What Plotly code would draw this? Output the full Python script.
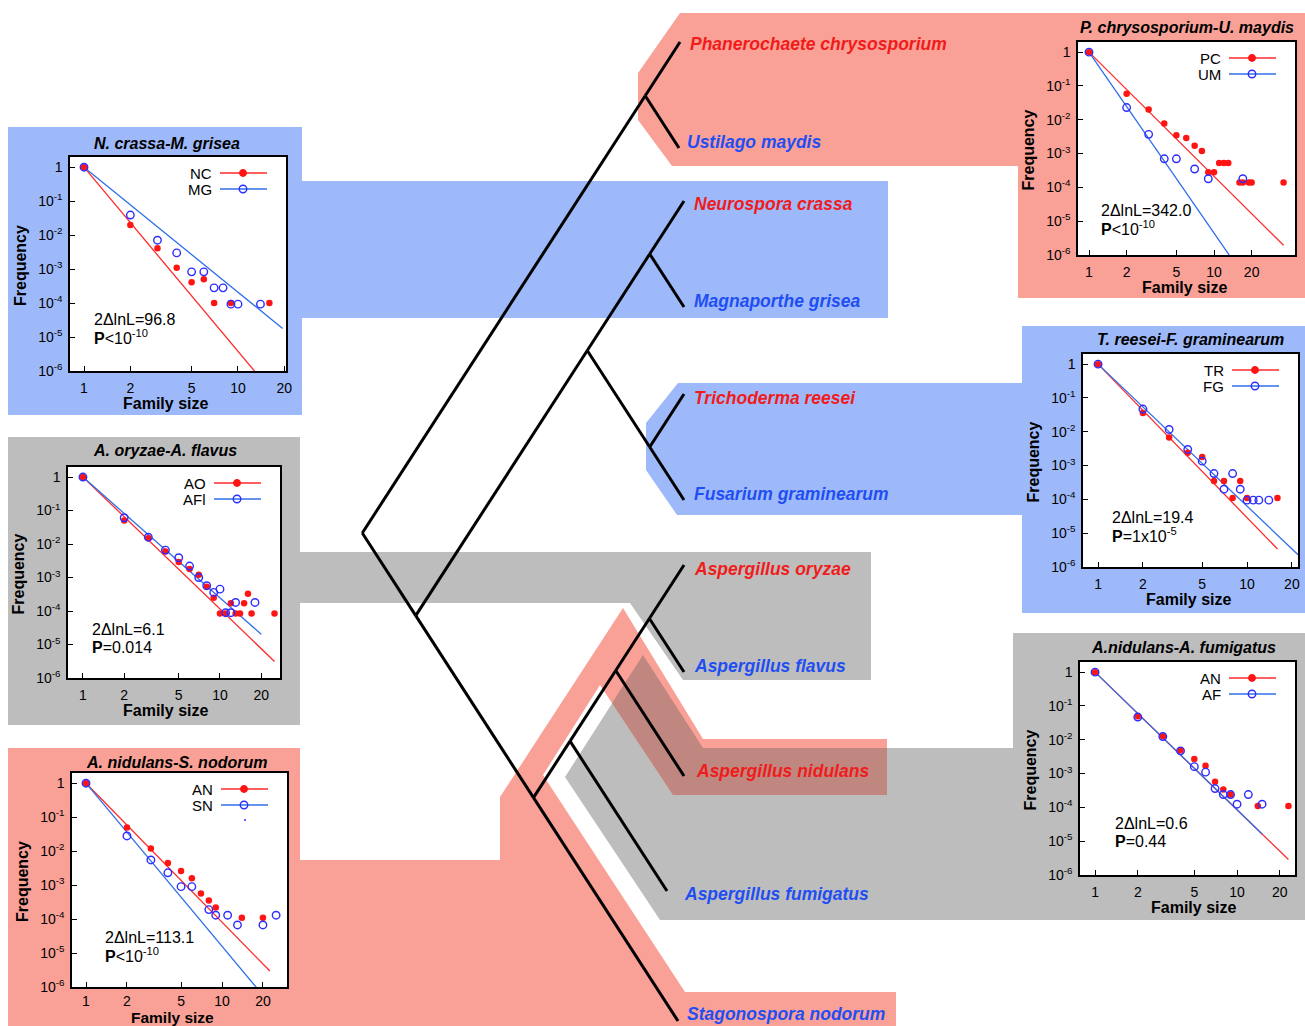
import plotly.graph_objects as go

W, H = 1305, 1026
FONT = "Liberation Sans, Arial, Helvetica, sans-serif"

# colours
RED_TXT, BLUE_TXT = "#f01c1c", "#1f4ef2"
RED_MK, RED_LN = "#ff1414", "#ff2a2a"
BLUE_MK, BLUE_LN = "#2d2dff", "#2f6fe8"
SALMON, SKY, GREY, DUSK = "#f9a197", "#9eb9f9", "#bdbdbd", "#bf877f"

# ---------------- family-size distributions ----------------
# N. crassa (NC) / M. grisea (MG)
nc_size = [1, 2, 3, 4, 5, 6, 7, 9, 16]
nc_freq = [1.0, 0.0197, 0.0041, 0.0011, 4.1e-4, 5.0e-4, 1.0e-4, 1.0e-4, 1.0e-4]
mg_size = [1, 2, 3, 4, 5, 6, 7, 8, 9, 10, 14]
mg_freq = [1.0, 0.039, 0.0071, 0.0030, 8.3e-4, 8.3e-4, 2.8e-4, 2.8e-4, 9.3e-5, 9.3e-5, 9.3e-5]

# A. oryzae (AO) / A. flavus (AFl)
ao_size = [1, 2, 3, 4, 5, 6, 7, 8, 9, 10, 11, 12, 13, 14, 15, 16, 17, 25]
ao_freq = [1.0, 0.050, 0.0150, 0.0060, 0.0029, 0.0018, 0.0012, 5.3e-4, 2.5e-4, 8.5e-5,
           8.5e-5, 1.7e-4, 8.5e-5, 8.5e-5, 1.7e-4, 3.3e-4, 8.5e-5, 8.5e-5]
afl_size = [1, 2, 3, 4, 5, 6, 7, 8, 9, 10, 11, 12, 13, 18]
afl_freq = [1.0, 0.061, 0.016, 0.0066, 0.0039, 0.0022, 0.0010, 5.7e-4, 3.6e-4, 4.5e-4,
            8.9e-5, 8.9e-5, 1.8e-4, 1.8e-4]

# A. nidulans (AN) / S. nodorum (SN)
ans_size = [1, 2, 3, 4, 5, 6, 7, 8, 9, 14, 20]
ans_freq = [1.0, 0.050, 0.012, 0.0045, 0.0026, 0.0016, 5.7e-4, 3.5e-4, 2.2e-4, 1.1e-4, 1.1e-4]
sn_size = [1, 2, 3, 4, 5, 6, 8, 9, 11, 13, 20, 25]
sn_freq = [1.0, 0.028, 0.0055, 0.0023, 9.0e-4, 9.0e-4, 1.9e-4, 1.3e-4, 1.3e-4, 6.7e-5, 6.7e-5, 1.3e-4]

# P. chrysosporium (PC) / U. maydis (UM)
pc_size = [1, 2, 3, 4, 5, 6, 7, 8, 9, 10, 11, 12, 13, 16, 17, 19, 20, 36]
pc_freq = [1.0, 0.059, 0.020, 0.0078, 0.0035, 0.0029, 0.0017, 0.0012, 2.8e-4, 2.8e-4,
           5.3e-4, 5.3e-4, 5.3e-4, 1.4e-4, 1.4e-4, 1.4e-4, 1.4e-4, 1.4e-4]
um_size = [1, 2, 3, 4, 5, 7, 9, 17]
um_freq = [1.0, 0.023, 0.0037, 7.0e-4, 7.0e-4, 3.5e-4, 1.8e-4, 1.8e-4]

# T. reesei (TR) / F. graminearum (FG)
tr_size = [1, 2, 3, 4, 5, 6, 7, 8, 9, 10, 16]
tr_freq = [1.0, 0.036, 0.0068, 0.0024, 0.0018, 3.5e-4, 3.5e-4, 1.1e-4, 3.5e-4, 1.1e-4, 1.1e-4]
fg_size = [1, 2, 3, 4, 5, 6, 7, 8, 9, 10, 11, 12, 14]
fg_freq = [1.0, 0.047, 0.0117, 0.0030, 0.00135, 5.8e-4, 2.0e-4, 5.8e-4, 2.0e-4, 9.5e-5,
           9.5e-5, 9.5e-5, 9.5e-5]

# A. nidulans (AN) / A. fumigatus (AF)
anf_size = [1, 2, 3, 4, 5, 6, 7, 8, 9, 14, 23]
anf_freq = [1.0, 0.050, 0.0128, 0.0049, 0.0027, 0.0017, 5.7e-4, 3.4e-4, 2.4e-4, 1.1e-4, 1.1e-4]
af_size = [1, 2, 3, 4, 5, 6, 7, 8, 9, 10, 12, 15]
af_freq = [1.0, 0.047, 0.0125, 0.0047, 0.0016, 0.0011, 3.6e-4, 2.4e-4, 2.4e-4, 1.24e-4, 2.4e-4, 1.24e-4]

# fitted power laws  f(n) = n^-alpha, drawn from n = 1 to n_end
alpha_red = [5.42, 3.94, 4.09, 3.67, 4.54, 4.07]
alpha_blue = [3.68, 3.61, 4.80, 5.35, 4.20, 4.07]
end_red = [20, 25, 22.5, 36, 16, 23]
end_blue = [19.5, 20, 20, 20, 22, 15]

# likelihood-ratio statistics
lnl_stat = ["96.8", "6.1", "113.1", "342.0", "19.4", "0.6"]
p_value = ["&lt;10<sup>-10</sup>", "=0.014", "&lt;10<sup>-10</sup>",
           "&lt;10<sup>-10</sup>", "=1x10<sup>-5</sup>", "=0.44"]

titles = ["N. crassa-M. grisea", "A. oryzae-A. flavus", "A. nidulans-S. nodorum",
          "P. chrysosporium-U. maydis", "T. reesei-F. graminearum", "A.nidulans-A. fumigatus"]
red_codes = ["NC", "AO", "AN", "PC", "TR", "AN"]
blue_codes = ["MG", "AFl", "SN", "UM", "FG", "AF"]
red_data = [(nc_size, nc_freq), (ao_size, ao_freq), (ans_size, ans_freq),
            (pc_size, pc_freq), (tr_size, tr_freq), (anf_size, anf_freq)]
blue_data = [(mg_size, mg_freq), (afl_size, afl_freq), (sn_size, sn_freq),
             (um_size, um_freq), (fg_size, fg_freq), (af_size, af_freq)]

x_ticks = [1, 2, 5, 10, 20]
y_ticks = [1, 1e-1, 1e-2, 1e-3, 1e-4, 1e-5, 1e-6]
y_ticktext = ["1"] + [f"10<sup>-{k}</sup>" for k in range(1, 7)]

# ---------------- page geometry (pixels) ----------------
# plot frame (left, top, right, bottom) and x range (log10) of every panel
frames = [(70, 157, 286, 371), (68, 467, 280, 678), (72, 773, 287, 987),
          (1078, 42, 1295, 255), (1083, 354, 1298, 567), (1080, 662, 1295, 875)]
x_ranges = [(-0.091, 1.312), (-0.109, 1.438), (-0.103, 1.478),
            (-0.088, 1.648), (-0.101, 1.342), (-0.106, 1.408)]
title_pos = [(167, 143), (165, 450), (176, 762), (1187, 27), (1190, 339), (1183, 647)]
xlabel_pos = [(165, 403), (165, 710), (172, 1017), (1184, 287), (1188, 599), (1193, 907)]
xlabel_size = [16, 16, 15.5, 16, 16, 16]
xtick_standoff = [3, 3, 0, 3, 3, 3]
stat_pos = [(92, 319), (90, 629), (103, 937), (1099, 210), (1110, 517), (1113, 823)]

# ---------------- phylogeny ----------------
species = ["Phanerochaete chrysosporium", "Ustilago maydis", "Neurospora crassa",
           "Magnaporthe grisea", "Trichoderma reesei", "Fusarium graminearum",
           "Aspergillus oryzae", "Aspergillus flavus", "Aspergillus nidulans",
           "Aspergillus fumigatus", "Stagonospora nodorum"]
species_red = [True, False, True, False, True, False, True, False, True, False, False]
tip_xy = [(680, 42), (679, 148), (684, 201), (684, 307), (684, 394), (684, 500),
          (684, 565), (684, 672), (684, 776), (667, 891), (678, 1021)]
label_xy = [(688, 44), (685, 142), (692, 204), (692, 301), (692, 398), (692, 494),
            (692, 569), (692, 666), (694, 771), (682, 894), (685, 1014)]
topology = ((0, 1), (((2, 3), (4, 5)), ((((6, 7), 8), 9), 10)))
SLANT = 0.647  # horizontal run per pixel of vertical run on every branch

edges = []


def place(node):
    if isinstance(node, int):
        return tip_xy[node]
    (x1, y1), (x2, y2) = place(node[0]), place(node[1])
    yp = (y1 + y2) / 2 + (x1 - x2) / (2 * SLANT)
    xp = x1 - SLANT * (yp - y1)
    edges.append(((xp, yp), (x1, y1)))
    edges.append(((xp, yp), (x2, y2)))
    return (xp, yp)


place(topology)

fig = go.Figure()

# tree branches
tx, ty = [], []
for (a, b) in edges:
    tx += [a[0], b[0], None]
    ty += [a[1], b[1], None]
fig.add_trace(go.Scatter(x=tx, y=ty, mode="lines", line=dict(color="black", width=3),
                         xaxis="x", yaxis="y", hoverinfo="skip"))

# ---------------- highlight bands ----------------
def poly(pts):
    return "M " + " L ".join(f"{x},{y}" for x, y in pts) + " Z"


bands = [
    (SALMON, [(680, 13), (1305, 13), (1305, 298), (1018, 298), (1018, 166), (672, 166),
              (638, 120), (638, 73)]),
    (SKY, [(8, 127), (302, 127), (302, 181), (888, 181), (888, 318), (302, 318),
           (302, 415), (8, 415)]),
    (SKY, [(678, 383), (1022, 383), (1022, 326), (1305, 326), (1305, 613), (1022, 613),
           (1022, 515), (677, 515), (646, 470), (646, 423)]),
    (GREY, [(8, 437), (300, 437), (300, 552), (871, 552), (871, 680), (683, 680),
            (630, 603), (300, 603), (300, 725), (8, 725)]),
    (GREY, [(565, 777), (643, 655), (703, 748), (1013, 748), (1013, 633), (1305, 633),
            (1305, 920), (660, 920)]),
    (SALMON, [(8, 748), (300, 748), (300, 860), (500, 860), (500, 797), (623, 608),
              (703, 739), (887, 739), (887, 795), (673, 795), (600, 685), (543, 775),
              (685, 992), (896, 992), (896, 1026), (8, 1026)]),
    (DUSK, [(643, 655), (703, 748), (887, 748), (887, 795), (673, 795), (612, 703)]),
]
shapes = []
for col, pts in bands:
    shapes.append(dict(type="path", path=poly(pts), xref="x", yref="y", fillcolor=col,
                       line=dict(width=0), layer="below"))
for (L, T, R, B) in frames:
    shapes.append(dict(type="rect", x0=L, x1=R, y0=T, y1=B, xref="x", yref="y",
                       fillcolor="white", line=dict(width=0), layer="below"))

annotations = []
for name, red, (lx, ly) in zip(species, species_red, label_xy):
    annotations.append(dict(x=lx, y=ly, xref="x", yref="y", text=f"<b><i>{name}</i></b>",
                            showarrow=False, xanchor="left", yanchor="middle",
                            font=dict(family=FONT, size=17.5,
                                      color=RED_TXT if red else BLUE_TXT)))

layout_axes = {}
axis_common = dict(showline=True, linecolor="black", linewidth=1.5, mirror=True,
                   ticks="inside", ticklen=5, tickwidth=1, tickcolor="black",
                   showgrid=False, zeroline=False, fixedrange=True, ticklabelstandoff=3,
                   automargin=False,
                   tickfont=dict(family=FONT, size=14, color="black"))

for k in range(6):
    i = k + 2
    L, T, R, B = frames[k]
    layout_axes[f"xaxis{i}"] = dict(axis_common, type="log", anchor=f"y{i}",
                                    domain=[L / W, R / W], range=list(x_ranges[k]),
                                    tickvals=x_ticks, ticktext=[str(v) for v in x_ticks],
                                    ticklabelstandoff=xtick_standoff[k])
    layout_axes[f"yaxis{i}"] = dict(axis_common, type="log", anchor=f"x{i}",
                                    domain=[1 - B / H, 1 - T / H], range=[-6, 0.3],
                                    tickvals=y_ticks, ticktext=y_ticktext)

    # fitted lines
    for alpha, n_end, col in ((alpha_red[k], end_red[k], RED_LN),
                              (alpha_blue[k], end_blue[k], BLUE_LN)):
        fig.add_trace(go.Scatter(x=[1, n_end], y=[1, n_end ** (-alpha)], mode="lines",
                                 line=dict(color=col, width=1.3),
                                 xaxis=f"x{i}", yaxis=f"y{i}", hoverinfo="skip"))
    # observed frequencies
    rs, rf = red_data[k]
    bs, bf = blue_data[k]
    fig.add_trace(go.Scatter(x=rs, y=rf, mode="markers",
                             marker=dict(symbol="circle", size=6.5, color=RED_MK),
                             xaxis=f"x{i}", yaxis=f"y{i}"))
    fig.add_trace(go.Scatter(x=bs, y=bf, mode="markers",
                             marker=dict(symbol="circle-open", size=7.5, color=BLUE_MK,
                                         line=dict(width=1.4, color=BLUE_MK)),
                             xaxis=f"x{i}", yaxis=f"y{i}"))

    # key (code, line sample, marker sample)
    for row, (code, lcol, mcol, sym) in enumerate(
            ((red_codes[k], RED_LN, RED_MK, "circle"),
             (blue_codes[k], BLUE_LN, BLUE_MK, "circle-open"))):
        yk = T + 16 + 16 * row
        annotations.append(dict(x=R - 72, y=yk, xref="x", yref="y", text=code,
                                showarrow=False, xanchor="right", yanchor="middle",
                                font=dict(family=FONT, size=15, color="black")))
        fig.add_trace(go.Scatter(x=[R - 66, R - 19], y=[yk, yk], mode="lines",
                                 line=dict(color=lcol, width=1.3),
                                 xaxis="x", yaxis="y", hoverinfo="skip"))
        fig.add_trace(go.Scatter(x=[R - 43], y=[yk], mode="markers",
                                 marker=dict(symbol=sym, size=6.5 if row == 0 else 7.5,
                                             color=mcol, line=dict(width=1.4, color=mcol)),
                                 xaxis="x", yaxis="y", hoverinfo="skip"))
    if k == 2:
        fig.add_trace(go.Scatter(x=[R - 42], y=[T + 47], mode="markers",
                                 marker=dict(size=2, color=BLUE_MK),
                                 xaxis="x", yaxis="y", hoverinfo="skip"))

    # title, axis titles, statistics
    tx0, ty0 = title_pos[k]
    annotations.append(dict(x=tx0, y=ty0, xref="x", yref="y",
                            text=f"<b><i>{titles[k]}</i></b>", showarrow=False,
                            xanchor="center", yanchor="middle",
                            font=dict(family=FONT, size=16, color="black")))
    annotations.append(dict(x=L - 50, y=(T + B) / 2 + 2, xref="x", yref="y",
                            text="<b>Frequency</b>", textangle=-90, showarrow=False,
                            xanchor="center", yanchor="middle",
                            font=dict(family=FONT, size=16, color="black")))
    lx0, ly0 = xlabel_pos[k]
    annotations.append(dict(x=lx0, y=ly0, xref="x", yref="y",
                            text="<b>Family size</b>", showarrow=False,
                            xanchor="center", yanchor="middle",
                            font=dict(family=FONT, size=xlabel_size[k], color="black")))
    sx, sy = stat_pos[k]
    annotations.append(dict(x=sx, y=sy, xref="x", yref="y",
                            text=f"2\u0394lnL={lnl_stat[k]}", showarrow=False,
                            xanchor="left", yanchor="middle",
                            font=dict(family=FONT, size=16, color="black")))
    annotations.append(dict(x=sx, y=sy + 18, xref="x", yref="y",
                            text=f"<b>P</b>{p_value[k]}", showarrow=False,
                            xanchor="left", yanchor="middle",
                            font=dict(family=FONT, size=16, color="black")))

fig.update_layout(
    width=W, height=H, margin=dict(l=0, r=0, t=0, b=0, pad=0, autoexpand=False),
    paper_bgcolor="white", plot_bgcolor="rgba(0,0,0,0)", showlegend=False,
    xaxis=dict(range=[0, W], domain=[0, 1], visible=False, fixedrange=True,
               automargin=False),
    yaxis=dict(range=[H, 0], domain=[0, 1], visible=False, fixedrange=True,
               automargin=False),
    shapes=shapes, annotations=annotations, **layout_axes,
)

# page without body margin or scrollbars so the figure sits at the window origin
page_css = ("document.body.style.margin='0';document.body.style.padding='0';"
            "document.body.style.overflow='hidden';"
            "document.documentElement.style.overflow='hidden';")
fig.write_html("out.html", post_script=page_css, config={"displayModeBar": False})
